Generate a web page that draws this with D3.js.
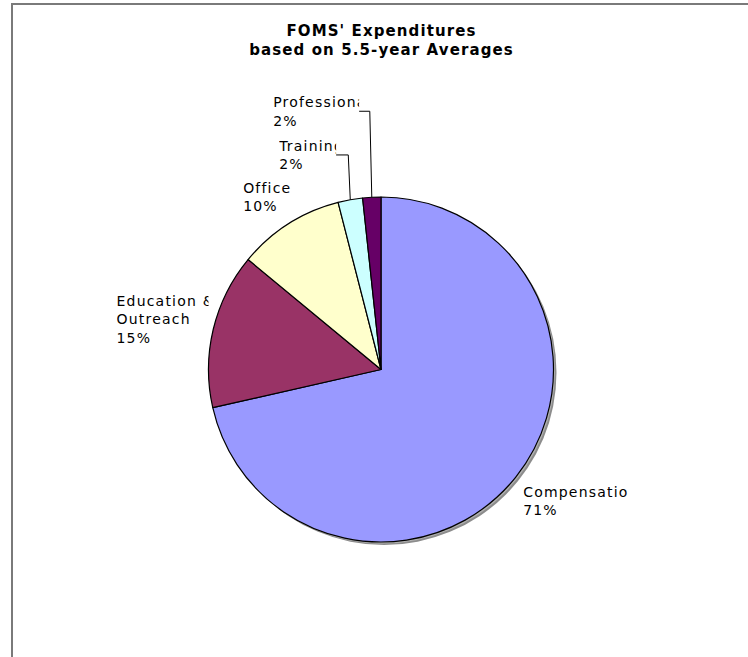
<!DOCTYPE html>
<html>
<head>
<meta charset="utf-8">
<script src="https://cdn.jsdelivr.net/npm/d3@7"></script>
<style>
  body { margin:0; background:#fff; }
  text { font-family:"DejaVu Sans", Verdana, sans-serif; }
</style>
</head>
<body>
<div id="chart"></div>
<script>
// data
var categories = ["Compensation", "Education & Outreach", "Office", "Training", "Professional"];
var values     = [71.45, 14.55, 10.0, 2.3, 1.7];
var labelLines = [["Compensation"], ["Education &", "Outreach"], ["Office"], ["Training"], ["Professional"]];
var titleLines = ["FOMS' Expenditures", "based on 5.5-year Averages"];

var colors = ["#9999ff", "#993366", "#ffffcc", "#ccffff", "#660066"];

// label boxes, offset from an anchor just outside each slice (Excel-ish manual placement)
var labelLayout = [
  {dx:-2,   dy:0,   w:105, leader:false},
  {dx:-85,  dy:-33, w:92,  leader:false},
  {dx:-39,  dy:-33, w:120, leader:false},
  {dx:-69,  dy:-49, w:57,  leader:true},
  {dx:-98,  dy:-90, w:86,  leader:true}
];

var W = 748, H = 657;
var cx = 381, cy = 369.5, r = 172.5;
var lineH = 18.5;

var svg = d3.select("#chart")
  .append("svg")
  .attr("width", W)
  .attr("height", H);

svg.append("rect")
  .attr("width", W).attr("height", H)
  .attr("fill", "#fff");

// frame (only left + top visible in the crop)
svg.append("path")
  .attr("d", "M12," + H + "V4H" + W)
  .attr("fill", "none")
  .attr("stroke", "#7a7a7a")
  .attr("stroke-width", 2);

// title
var title = svg.append("text")
  .attr("text-anchor", "middle")
  .attr("font-weight", "bold")
  .attr("font-size", "15px")
  .attr("letter-spacing", "1.1px")
  .attr("fill", "#000");
title.selectAll("tspan")
  .data(titleLines)
  .enter().append("tspan")
  .attr("x", 381.5)
  .attr("y", function(d, i){ return 36 + i * 19; })
  .text(function(d){ return d; });

var total = d3.sum(values);
var pie = d3.pie().sort(null).value(function(d){ return d; });
var arcs = pie(values);
var arc = d3.arc().innerRadius(0).outerRadius(r);

var g = svg.append("g").attr("transform", "translate(" + cx + "," + cy + ")");

// shadow
g.append("circle")
  .attr("cx", 3).attr("cy", 3)
  .attr("r", r)
  .attr("fill", "#8c8c8c");
g.append("circle")
  .attr("cx", 1.5).attr("cy", 1.5)
  .attr("r", r)
  .attr("fill", "#b0b0b0");

g.selectAll("path.slice")
  .data(arcs)
  .enter().append("path")
  .attr("class", "slice")
  .attr("d", arc)
  .attr("fill", function(d, i){ return colors[i]; })
  .attr("stroke", "#000")
  .attr("stroke-width", 1.2)
  .attr("stroke-linejoin", "round");

// labels
var defs = svg.append("defs");
function pt(a, rad){ return [cx + Math.sin(a) * rad, cy - Math.cos(a) * rad]; }

arcs.forEach(function(d, i){
  var mid = (d.startAngle + d.endAngle) / 2;
  var anchor = pt(mid, r + 12);
  var L = labelLayout[i];
  var x0 = anchor[0] + L.dx, y0 = anchor[1] + L.dy;
  var lines = labelLines[i].concat([Math.round(d.value / total * 100) + "%"]);

  var clipID = "clip_" + i;
  defs.append("clipPath").attr("id", clipID)
    .append("rect")
    .attr("x", x0).attr("y", y0 - 4)
    .attr("width", L.w).attr("height", lines.length * lineH + 8);

  svg.append("text")
    .attr("clip-path", "url(#" + clipID + ")")
    .attr("font-size", "14px")
    .attr("letter-spacing", "1.2px")
    .attr("fill", "#000")
    .selectAll("tspan")
    .data(lines)
    .enter().append("tspan")
    .attr("x", x0)
    .attr("y", function(t, j){ return y0 + 12 + j * lineH; })
    .text(function(t){ return t; });

  if (L.leader) {
    var end = pt(mid, r);
    var ly = y0 + 16;
    var p = d3.path();
    p.moveTo(x0 + L.w, ly);
    p.lineTo(end[0] - 2, ly);
    p.lineTo(end[0], end[1]);
    svg.append("path")
      .attr("d", p.toString())
      .attr("fill", "none")
      .attr("stroke", "#000")
      .attr("stroke-width", 1);
  }
});
</script>
</body>
</html>
